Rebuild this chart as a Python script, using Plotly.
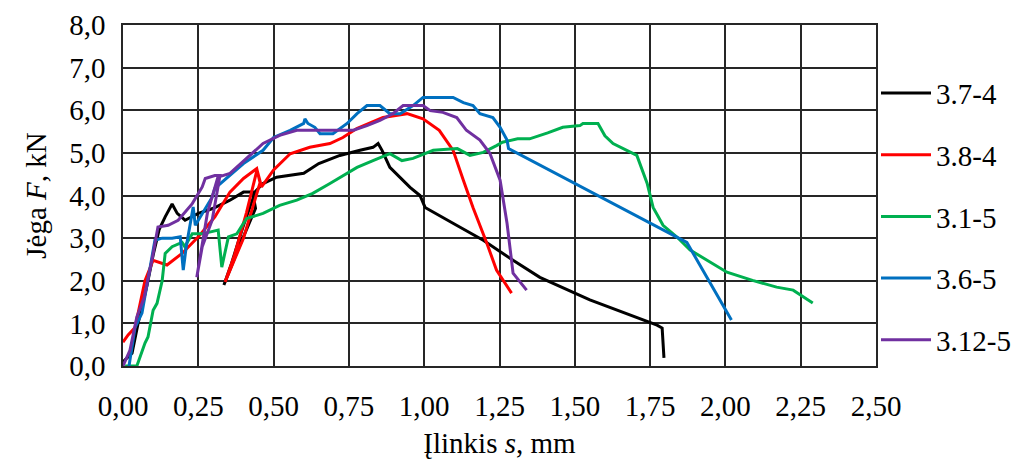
import plotly.graph_objects as go

# 3.7-4 (black)
s_374 = [0.00, 0.03, 0.05, 0.08, 0.10, 0.12, 0.14, 0.163, 0.18, 0.206, 0.25, 0.30, 0.355, 0.40, 0.43, 0.44,
         0.38, 0.335, 0.36, 0.40, 0.44, 0.465, 0.51, 0.60, 0.65, 0.72, 0.787, 0.83, 0.847, 0.86, 0.886,
         0.92, 0.953, 0.986, 1.003, 1.10, 1.196, 1.295, 1.384, 1.55, 1.773, 1.79, 1.793, 1.796]
F_374 = [0.10, 0.30, 1.00, 1.90, 2.60, 3.20, 3.50, 3.80, 3.58, 3.42, 3.58, 3.70, 3.89, 4.08, 4.08, 3.70,
         2.70, 1.90, 2.40, 3.30, 4.10, 4.28, 4.43, 4.52, 4.75, 4.94, 5.06, 5.13, 5.22, 5.06, 4.66,
         4.43, 4.19, 4.00, 3.72, 3.33, 2.95, 2.48, 2.08, 1.55, 0.96, 0.89, 0.61, 0.19]

# 3.8-4 (red)
s_384 = [0.00, 0.017, 0.04, 0.073, 0.10, 0.146, 0.196, 0.25, 0.305, 0.355, 0.40, 0.444, 0.455, 0.40,
         0.339, 0.37, 0.41, 0.445, 0.46, 0.50, 0.555, 0.62, 0.687, 0.73, 0.776, 0.82, 0.863, 0.943,
         0.996, 1.05, 1.096, 1.13, 1.162, 1.208, 1.24, 1.29]
F_384 = [0.56, 0.73, 0.90, 2.00, 2.48, 2.37, 2.64, 3.03, 3.50, 4.08, 4.40, 4.63, 4.30, 3.00,
         1.97, 2.60, 3.60, 4.60, 4.20, 4.60, 4.98, 5.13, 5.22, 5.36, 5.57, 5.70, 5.83, 5.92,
         5.80, 5.53, 5.06, 4.36, 3.72, 2.88, 2.25, 1.71]

# 3.1-5 (green)
s_315 = [0.007, 0.046, 0.073, 0.083, 0.10, 0.113, 0.13, 0.14, 0.163, 0.196, 0.205, 0.23, 0.263, 0.316,
         0.328, 0.35, 0.378, 0.41, 0.465, 0.52, 0.577, 0.63, 0.687, 0.744, 0.777, 0.83, 0.886, 0.926,
         0.963, 1.03, 1.11, 1.152, 1.196, 1.24, 1.26, 1.31, 1.35, 1.41, 1.46, 1.517, 1.527, 1.577,
         1.60, 1.627, 1.673, 1.706, 1.74, 1.76, 1.793, 1.84, 1.883, 1.94, 2.005, 2.09, 2.17, 2.225, 2.29]
F_315 = [0.00, 0.00, 0.54, 0.68, 1.31, 1.47, 2.00, 2.64, 2.80, 2.90, 2.80, 3.10, 3.10, 3.19,
         2.32, 3.03, 3.10, 3.46, 3.58, 3.77, 3.89, 4.05, 4.28, 4.52, 4.66, 4.82, 4.98, 4.82,
         4.87, 5.06, 5.10, 4.94, 5.01, 5.17, 5.25, 5.33, 5.33, 5.47, 5.60, 5.64, 5.69, 5.69,
         5.40, 5.22, 5.06, 4.94, 4.29, 3.72, 3.30, 3.02, 2.72, 2.48, 2.20, 2.01, 1.85, 1.78, 1.48]

# 3.6-5 (blue)
s_365 = [0.02, 0.04, 0.063, 0.083, 0.106, 0.13, 0.163, 0.19, 0.20, 0.21, 0.233, 0.24, 0.263, 0.296,
         0.305, 0.35, 0.40, 0.465, 0.50, 0.555, 0.60, 0.604, 0.614, 0.637, 0.654, 0.697, 0.744, 0.777,
         0.81, 0.853, 0.886, 0.92, 0.963, 0.996, 1.096, 1.13, 1.162, 1.185, 1.228, 1.252, 1.275, 1.28,
         1.872, 2.02]
F_365 = [0.00, 0.90, 1.24, 2.00, 2.95, 3.00, 3.00, 3.03, 2.25, 2.80, 3.73, 3.30, 3.58, 3.96,
         4.17, 4.45, 4.75, 5.06, 5.36, 5.53, 5.69, 5.80, 5.69, 5.60, 5.45, 5.45, 5.69, 5.92,
         6.11, 6.11, 5.92, 5.92, 6.11, 6.30, 6.30, 6.18, 6.11, 5.92, 5.83, 5.60, 5.30, 5.10,
         2.90, 1.08]

# 3.12-5 (purple)
s_3125 = [0.00, 0.023, 0.046, 0.07, 0.096, 0.116, 0.15, 0.183, 0.23, 0.263, 0.273, 0.305, 0.322, 0.296,
          0.263, 0.245, 0.28, 0.315, 0.355, 0.39, 0.465, 0.52, 0.577, 0.73, 0.765, 0.81, 0.853, 0.896,
          0.93, 0.996, 1.02, 1.062, 1.108, 1.14, 1.185, 1.218, 1.252, 1.275, 1.295, 1.34]
F_3125 = [0.00, 0.37, 1.15, 1.60, 2.48, 3.26, 3.30, 3.42, 3.81, 4.20, 4.40, 4.47, 4.47, 3.42,
          2.80, 2.08, 3.58, 4.43, 4.52, 4.75, 5.22, 5.41, 5.53, 5.53, 5.53, 5.64, 5.76, 5.92,
          6.11, 6.11, 5.99, 5.95, 5.83, 5.53, 5.30, 4.99, 4.36, 3.35, 2.18, 1.78]

series_names = ["3.7-4", "3.8-4", "3.1-5", "3.6-5", "3.12-5"]
series_x = [s_374, s_384, s_315, s_365, s_3125]
series_y = [F_374, F_384, F_315, F_365, F_3125]
colors = ["#000000", "#FF0000", "#00B050", "#0070C0", "#7030A0"]

x_ticks = [0.0, 0.25, 0.5, 0.75, 1.0, 1.25, 1.5, 1.75, 2.0, 2.25, 2.5]
y_ticks = [0, 1, 2, 3, 4, 5, 6, 7, 8]

FONT = "Liberation Serif"
FS = 29

fig = go.Figure()
for i, (name, xs, ys, c) in enumerate(zip(series_names, series_x, series_y, colors)):
    fig.add_trace(go.Scatter(x=xs, y=ys, mode="lines", name=name,
                             line=dict(color=c, width=3), legendgroup=f"g{i}"))

# page body has an 8px margin, so the figure is sized 1016x456
fig.update_layout(
    width=1016, height=456,
    margin=dict(l=115, r=148, t=17, b=98, autoexpand=False),
    paper_bgcolor="white", plot_bgcolor="white",
    separators=", ",
    font=dict(family=FONT, size=FS, color="#000000"),
    showlegend=True,
    legend=dict(x=1.0, xanchor="left", y=0.875, yanchor="top",
                font=dict(family=FONT, size=FS, color="#000000"),
                tracegroupgap=21, traceorder="grouped", itemwidth=50,
                bgcolor="rgba(0,0,0,0)", borderwidth=0),
)
fig.update_xaxes(
    range=[0, 2.5], tickvals=x_ticks, tickformat=".2f",
    showgrid=True, gridcolor="#262626", gridwidth=1.5,
    showline=True, linecolor="#262626", linewidth=1.5, mirror=True,
    zeroline=False, ticks="outside", ticklen=13, tickcolor="rgba(0,0,0,0)",
    tickfont=dict(family=FONT, size=FS),
    title=dict(text="Įlinkis <i>s</i>, mm", font=dict(family=FONT, size=FS), standoff=12),
)
fig.update_yaxes(
    range=[0, 8], tickvals=y_ticks, tickformat=".1f",
    showgrid=True, gridcolor="#262626", gridwidth=1.5,
    showline=True, linecolor="#262626", linewidth=1.5, mirror=True,
    zeroline=False, ticks="outside", ticklen=10, tickcolor="rgba(0,0,0,0)",
    tickfont=dict(family=FONT, size=FS),
    title=dict(text="Jėga <i>F</i>, kN", font=dict(family=FONT, size=FS), standoff=14),
)

fig.write_html("out.html")
